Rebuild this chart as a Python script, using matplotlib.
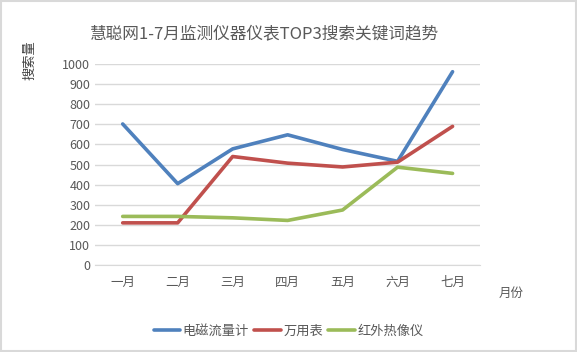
import numpy as np
import matplotlib.pyplot as plt
from matplotlib.patches import Rectangle

plt.rcParams['font.family'] = ['Noto Sans CJK SC', 'DejaVu Sans']

months = ['一月', '二月', '三月', '四月', '五月', '六月', '七月']
emf = [702, 405, 578, 648, 575, 516, 962]
multimeter = [210, 210, 540, 507, 488, 512, 690]
thermal = [242, 242, 235, 222, 274, 487, 456]

names = ['电磁流量计', '万用表', '红外热像仪']
colors = ['#4F81BD', '#C0504D', '#9BBB59']

fig = plt.figure(figsize=(5.77, 3.52), dpi=100)
ax = fig.add_axes([0.165, 0.247, 0.667, 0.571])

x = np.arange(len(months))
for vals, name, c in zip([emf, multimeter, thermal], names, colors):
    ax.plot(x, vals, color=c, lw=2.6, label=name, solid_capstyle='round')

ax.set_xlim(-0.5, 6.5)
ax.set_ylim(0, 1000)
ax.set_yticks(range(0, 1001, 100))
ax.set_xticks(x)
ax.set_xticklabels(months)
ax.yaxis.grid(True, color='#D9D9D9', lw=1)
ax.set_axisbelow(True)
for s in ['top', 'right', 'left']:
    ax.spines[s].set_visible(False)
ax.spines['bottom'].set_color('#D9D9D9')
ax.tick_params(length=0, colors='#595959', labelsize=9)
ax.tick_params(axis='x', pad=8)

fig.text(0.458, 0.905, '慧聪网1-7月监测仪器仪表TOP3搜索关键词趋势', ha='center', va='center',
         fontsize=12, color='#595959')
fig.text(0.052, 0.83, '搜索量', rotation=90, ha='center', va='center', fontsize=9.5, color='#404040')
fig.text(0.885, 0.165, '月份', ha='center', va='center', fontsize=9, color='#595959')

fig.legend(loc='center', bbox_to_anchor=(0.5, 0.058), ncol=3, frameon=False, fontsize=9.5,
           handlelength=2.0, handletextpad=0.2, columnspacing=0.4, labelcolor='#595959')

fig.patches.append(Rectangle((0.002, 0.004), 0.996, 0.992, transform=fig.transFigure,
                             fill=False, edgecolor='#D9D9D9', lw=1.5))

fig.savefig('out.png', dpi=100)
